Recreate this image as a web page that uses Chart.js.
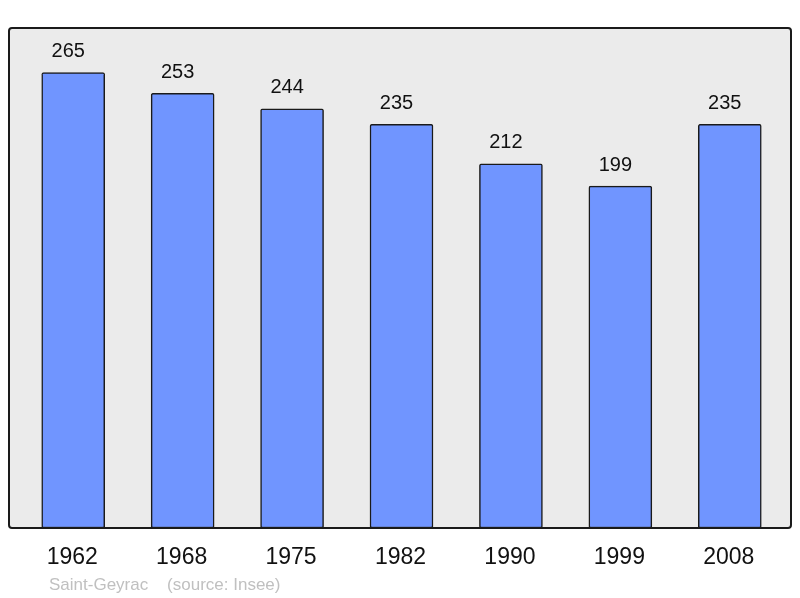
<!DOCTYPE html>
<html>
<head>
<meta charset="utf-8">
<script src="https://cdn.jsdelivr.net/npm/chart.js@4/dist/chart.umd.min.js"></script>
<style>
html,body{margin:0;padding:0;background:#fff;}
canvas{display:block;}
</style>
</head>
<body>
<canvas id="c" width="800" height="598"></canvas>
<script>
const years = ["1962","1968","1975","1982","1990","1999","2008"];
const population = [265,253,244,235,212,199,235];
const sourceText = "Saint-Geyrac    (source: Insee)";
const yMax = 291;

const FONT = '"Liberation Sans", Arial, sans-serif';

const framePlugin = {
  id: 'frame',
  beforeDatasetsDraw(chart) {
    const {ctx, chartArea: a} = chart;
    const x0 = a.left - 9.5, x1 = a.right + 6.5, y0 = a.top, y1 = a.bottom;
    ctx.save();
    ctx.beginPath();
    if (ctx.roundRect) ctx.roundRect(x0, y0, x1 - x0, y1 - y0, 3); else ctx.rect(x0, y0, x1 - x0, y1 - y0);
    ctx.fillStyle = '#ebebeb';
    ctx.fill();
    ctx.restore();
  },
  afterDatasetsDraw(chart) {
    const {ctx, chartArea: a} = chart;
    const x0 = a.left - 9.5, x1 = a.right + 6.5, y0 = a.top, y1 = a.bottom;
    ctx.save();
    ctx.beginPath();
    if (ctx.roundRect) ctx.roundRect(x0, y0, x1 - x0, y1 - y0, 3); else ctx.rect(x0, y0, x1 - x0, y1 - y0);
    ctx.lineWidth = 2;
    ctx.strokeStyle = '#1a1a1a';
    ctx.stroke();
    // value labels
    const meta = chart.getDatasetMeta(0);
    ctx.fillStyle = '#111';
    ctx.font = '20px ' + FONT;
    ctx.textAlign = 'center';
    ctx.textBaseline = 'middle';
    meta.data.forEach((bar, i) => {
      ctx.fillText(String(population[i]), bar.x - 5, bar.y - 21);
    });
    // category labels
    const xs = chart.scales.x;
    ctx.font = '23px ' + FONT;
    years.forEach((y, i) => {
      ctx.fillText(y, xs.getPixelForValue(i) - 1, a.bottom + 29.5);
    });
    // source
    ctx.fillStyle = '#c0c0c0';
    ctx.font = '17px ' + FONT;
    ctx.textAlign = 'left';
    ctx.fillText(sourceText, x0 + 40, a.bottom + 57);
    ctx.restore();
  }
};

new Chart(document.getElementById('c'), {
  type: 'bar',
  data: {
    labels: years,
    datasets: [{
      data: population,
      backgroundColor: '#7095ff',
      borderColor: '#1a1a1a',
      borderWidth: 1.5,
      borderRadius: 2,
      borderSkipped: false,
      barThickness: 63
    }]
  },
  options: {
    responsive: false,
    animation: false,
    devicePixelRatio: 1,
    layout: { padding: { left: 18.5, right: 15.5, top: 28, bottom: 70 } },
    plugins: { legend: { display: false }, tooltip: { enabled: false } },
    scales: {
      x: { display: false, offset: true, grid: { display: false } },
      y: { display: false, min: 0, max: yMax }
    }
  },
  plugins: [framePlugin]
});
</script>
</body>
</html>
